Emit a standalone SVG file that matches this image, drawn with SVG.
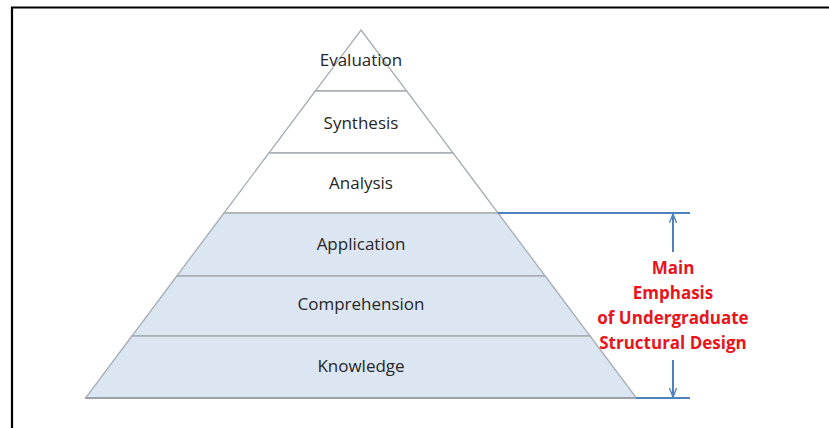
<svg xmlns="http://www.w3.org/2000/svg" width="829" height="428" viewBox="0 0 829 428">
<defs>
<style>
.lvl{stroke:#a6adb4;stroke-width:1.3;}
.w{fill:#ffffff;}
.b{fill:#dce6f2;}
.lbl{font-family:"Open Sans","Liberation Sans",sans-serif;font-size:17px;fill:#262626;text-anchor:middle;}
.red{font-family:"Open Sans","Liberation Sans",sans-serif;font-size:17px;font-weight:bold;fill:#e8141c;text-anchor:middle;}
.dim{stroke:#4f81bd;stroke-width:2;fill:none;}
</style>
<marker id="ah" viewBox="0 0 10 10" refX="10" refY="5" markerWidth="9" markerHeight="9" orient="auto" markerUnits="userSpaceOnUse">
<path d="M0,1 L10,5 L0,9" fill="none" stroke="#4f81bd" stroke-width="1.5"/>
</marker>
</defs>
<rect width="829" height="428" fill="#ffffff"/>
<path d="M12,428 L12,7.5 L829,7.5" fill="none" stroke="#000" stroke-width="2.2"/>
<g id="evaluation">
<polygon class="lvl w" points="361,30 406.7,91 315.3,91"/>
<text class="lbl" x="361" y="66">Evaluation</text>
</g>
<g id="synthesis">
<polygon class="lvl w" points="315.3,91 406.7,91 453.1,153 268.9,153"/>
<text class="lbl" x="361" y="129">Synthesis</text>
</g>
<g id="analysis">
<polygon class="lvl w" points="268.9,153 453.1,153 498,213 224,213"/>
<text class="lbl" x="361" y="189">Analysis</text>
</g>
<g id="application">
<polygon class="lvl b" points="224,213 498,213 545.2,276 176.8,276"/>
<text class="lbl" x="361" y="250">Application</text>
</g>
<g id="comprehension">
<polygon class="lvl b" points="176.8,276 545.2,276 590.1,336 131.9,336"/>
<text class="lbl" x="361" y="310">Comprehension</text>
</g>
<g id="knowledge">
<polygon class="lvl b" points="131.9,336 590.1,336 636.5,398 85.5,398"/>
<line x1="85.5" y1="398" x2="636.5" y2="398" stroke="#9aa1a8" stroke-width="2.2"/>
<text class="lbl" x="361" y="372">Knowledge</text>
</g>
<g id="connectors">
<line class="dim" x1="498" y1="213" x2="690" y2="213"/>
<line class="dim" x1="636" y1="398" x2="690" y2="398"/>
<line class="dim" x1="673" y1="252" x2="673" y2="214" marker-end="url(#ah)"/>
<line class="dim" x1="673" y1="360" x2="673" y2="397" marker-end="url(#ah)"/>
</g>
<g id="emphasis">
<text class="red" x="673" y="274">Main</text>
<text class="red" x="673" y="299">Emphasis</text>
<text class="red" x="673" y="324">of Undergraduate</text>
<text class="red" x="673" y="349">Structural Design</text>
</g>
</svg>
